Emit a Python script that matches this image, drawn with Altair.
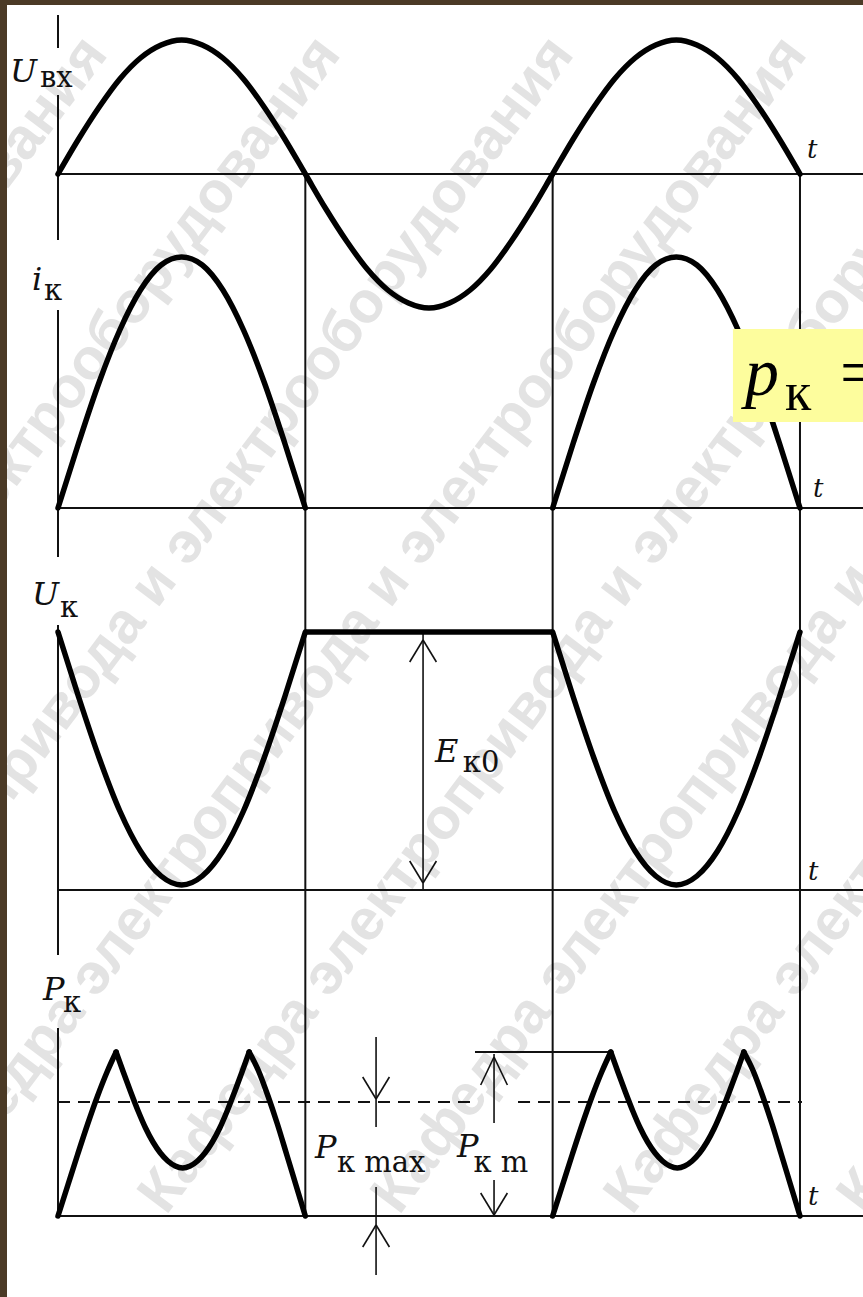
import altair as alt
import pandas as pd

# ---------------------------------------------------------------------------
# Waveforms of a class-B transistor stage. Time is measured in half-periods
# (t = 0 … 3); each conducting half-period is sampled at the same phase steps.
# Amplitudes are given in drawing units above the corresponding time axis.
# ---------------------------------------------------------------------------
PHASE = [0, 1/12, 2/12, 3/12, 4/12, 5/12, 6/12, 7/12, 8/12, 9/12, 10/12, 11/12, 1]
U_IN = [0, 35, 67, 95, 116, 129, 134, 129, 116, 95, 67, 35, 0]          # input voltage
I_K = [0, 65, 126, 178, 218, 243, 251, 243, 218, 178, 126, 65, 0]       # collector current
U_K = [258, 193, 132, 79, 39, 14, 5, 14, 39, 79, 132, 193, 258]        # collector voltage
E_K0 = 258                                                              # supply voltage

# collector power over one conducting half-period: rise, dip between peaks, fall
P_RISE_PHASE = [0, .04, .08, .12, .16, .20, .235]
P_RISE = [0, 31, 62, 92, 120, 145, 164]
P_DIP_PHASE = [.235, .264, .294, .324, .354, .384, .414, .444, .474, .504,
               .534, .564, .594, .624, .654, .684, .714, .744, .773]
P_DIP = [164, 144, 124, 105, 88, 74, 63, 55, 50, 48,
         50, 55, 63, 74, 88, 105, 124, 144, 164]
P_FALL_PHASE = [.773, .811, .849, .887, .924, .962, 1.0]
P_FALL = [164, 145, 120, 92, 62, 31, 0]
P_K_MEAN = 114
P_K_PEAK = 164

WATERMARK = "Кафедра электропривода и электрооборудования"

# ---------------------------------------------------------------------------
# Layout of the four stacked diagrams (levels of each time axis)
# ---------------------------------------------------------------------------
X_MIN, X_MAX = -0.2062, 3.2548
Y_MIN, Y_MAX = 0, 1292
BASE = {"uin": 1123, "ik": 789, "uk": 407, "pk": 81}
INK = "#111111"
LABEL_FONT = "DejaVu Serif"

xs = alt.Scale(domain=[X_MIN, X_MAX], nice=False, zero=False)
ys = alt.Scale(domain=[Y_MIN, Y_MAX], nice=False, zero=False)


def X(field="t"):
    return alt.X(f"{field}:Q", scale=xs, axis=None)


def Y(field="y"):
    return alt.Y(f"{field}:Q", scale=ys, axis=None)


# ---- smooth waveforms ------------------------------------------------------
rows = []
for k, sign in enumerate([1, -1, 1]):
    for i, (p, v) in enumerate(zip(PHASE, U_IN)):
        if k > 0 and i == 0:
            continue
        rows.append({"seg": "uin", "t": k + p, "y": BASE["uin"] + sign * v})
for k in (0, 2):
    for p, v in zip(PHASE, I_K):
        rows.append({"seg": f"ik{k}", "t": k + p, "y": BASE["ik"] + v})
    for p, v in zip(PHASE, U_K):
        rows.append({"seg": f"uk{k}", "t": k + p, "y": BASE["uk"] + v})
    for name, ph, vals in [("rise", P_RISE_PHASE, P_RISE),
                           ("dip", P_DIP_PHASE, P_DIP),
                           ("fall", P_FALL_PHASE, P_FALL)]:
        for p, v in zip(ph, vals):
            rows.append({"seg": f"pk{k}{name}", "t": k + p, "y": BASE["pk"] + v})
smooth = pd.DataFrame(rows)

flat = pd.DataFrame({"seg": ["ukflat", "ukflat"], "t": [1, 2],
                     "y": [BASE["uk"] + E_K0] * 2})

# ---- thin construction lines ----------------------------------------------
thin = []
for b in BASE.values():
    thin.append({"t": 0, "t2": X_MAX, "y": b, "y2": b})
for k in (1, 2, 3):
    thin.append({"t": k, "t2": k, "y": BASE["pk"], "y2": BASE["uin"]})
# vertical axis, broken where the quantity names stand
for a, b in [(1282, 1249), (1202, 1057), (987, 740), (672, 342), (269, BASE["pk"])]:
    thin.append({"t": 0, "t2": 0, "y": a, "y2": b})
# level of the power peak
pk_top = BASE["pk"] + P_K_PEAK
thin.append({"t": 1.686, "t2": 2.232, "y": pk_top, "y2": pk_top})


# dimension arrows: shaft pieces and open heads
def head(t, tip, up, w=0.054, ln=22):
    back = tip - ln if up else tip + ln
    return [{"t": t, "t2": t - w, "y": tip, "y2": back},
            {"t": t, "t2": t + w, "y": tip, "y2": back}]


arrows = []
t_e, t_mx, t_m = 1.476, 1.286, 1.763
arrows.append({"t": t_e, "t2": t_e, "y": BASE["uk"], "y2": BASE["uk"] + E_K0})
arrows += head(t_e, BASE["uk"] + E_K0 - 8, True)
arrows += head(t_e, BASE["uk"] + 7, False)
arrows.append({"t": t_mx, "t2": t_mx, "y": 260, "y2": 170})
arrows += head(t_mx, BASE["pk"] + P_K_MEAN + 3, False)
arrows.append({"t": t_mx, "t2": t_mx, "y": 110, "y2": 22})
arrows += head(t_mx, 72, True)
arrows.append({"t": t_m, "t2": t_m, "y": pk_top - 2, "y2": 174})
arrows += head(t_m, pk_top - 5, True, ln=28)
arrows.append({"t": t_m, "t2": t_m, "y": 117, "y2": BASE["pk"] + 1})
arrows += head(t_m, BASE["pk"] + 1, False)

thin_df = pd.DataFrame(thin)
arrow_df = pd.DataFrame(arrows)
mean_df = pd.DataFrame({"t": [0, 1.860], "t2": [1.666, 3.008],
                        "y": [BASE["pk"] + P_K_MEAN] * 2,
                        "y2": [BASE["pk"] + P_K_MEAN] * 2})

# ---- labels ----------------------------------------------------------------
names = pd.DataFrame([
    {"t": -0.194, "y": 1215, "txt": "U"},
    {"t": -0.105, "y": 1007, "txt": "i"},
    {"t": -0.105, "y": 692, "txt": "U"},
    {"t": -0.061, "y": 297, "txt": "P"},
    {"t": 1.524, "y": 535, "txt": "E"},
    {"t": 1.039, "y": 139, "txt": "P"},
    {"t": 1.613, "y": 140, "txt": "P"},
])
subs = pd.DataFrame([
    {"t": -0.073, "y": 1210, "txt": "вх"},
    {"t": -0.057, "y": 997, "txt": "к"},
    {"t": 0.008, "y": 680, "txt": "к"},
    {"t": 0.020, "y": 285, "txt": "к"},
    {"t": 1.637, "y": 525, "txt": "к0"},
    {"t": 1.128, "y": 125, "txt": "к max"},
    {"t": 1.680, "y": 125, "txt": "к m"},
])
tlabels = pd.DataFrame([
    {"t": 3.028, "y": 1139, "txt": "t"},
    {"t": 3.053, "y": 800, "txt": "t"},
    {"t": 3.032, "y": 417, "txt": "t"},
    {"t": 3.032, "y": 92, "txt": "t"},
])

# ---- watermark: the department name repeated along parallel diagonals --------
wm = pd.DataFrame([{"t": t0, "y": 81, "txt": WATERMARK}
                   for t0 in [-3.332, -2.390, -1.447, -0.505, 0.437, 1.379, 2.321, 3.263]])

watermark = alt.Chart(wm).mark_text(
    align="left", baseline="alphabetic", angle=307, font="Liberation Sans",
    fontWeight="bold", fontSize=58, color="#e3e3e3", clip=True
).encode(x=X(), y=Y(), text="txt:N")

thin_layer = alt.Chart(thin_df).mark_rule(color=INK, strokeWidth=2).encode(
    x=X(), x2="t2:Q", y=Y(), y2="y2:Q")
arrow_layer = alt.Chart(arrow_df).mark_rule(color=INK, strokeWidth=1.6).encode(
    x=X(), x2="t2:Q", y=Y(), y2="y2:Q")
mean_layer = alt.Chart(mean_df).mark_rule(
    color=INK, strokeWidth=1.8, strokeDash=[12, 8]).encode(
    x=X(), x2="t2:Q", y=Y(), y2="y2:Q")

smooth_layer = alt.Chart(smooth).mark_line(
    color="black", strokeWidth=5.5, interpolate="monotone", strokeCap="round",
    strokeJoin="round").encode(x=X(), y=Y(), detail="seg:N")
flat_layer = alt.Chart(flat).mark_line(color="black", strokeWidth=5.5).encode(
    x=X(), y=Y(), detail="seg:N")

name_layer = alt.Chart(names).mark_text(
    align="left", baseline="alphabetic", font=LABEL_FONT, fontStyle="italic",
    fontSize=32, color=INK).encode(x=X(), y=Y(), text="txt:N")
sub_layer = alt.Chart(subs).mark_text(
    align="left", baseline="alphabetic", font=LABEL_FONT, fontSize=29,
    color=INK).encode(x=X(), y=Y(), text="txt:N")
t_layer = alt.Chart(tlabels).mark_text(
    align="left", baseline="alphabetic", font=LABEL_FONT, fontStyle="italic",
    fontSize=26, color=INK).encode(x=X(), y=Y(), text="txt:N")

# ---- highlighted formula at the right edge ----------------------------------
box = alt.Chart(pd.DataFrame({"t": [2.729], "t2": [3.4], "y": [875], "y2": [968]})
                ).mark_rect(color="#fdfd9d", clip=True).encode(
    x=X(), x2="t2:Q", y=Y(), y2="y2:Q")
formula_main = alt.Chart(pd.DataFrame([
    {"t": 2.778, "y": 902, "txt": "p"}])).mark_text(
    align="left", baseline="alphabetic", font="Liberation Serif", fontStyle="italic",
    fontSize=68, color="black").encode(x=X(), y=Y(), text="txt:N")
formula_rest = alt.Chart(pd.DataFrame([
    {"t": 2.939, "y": 887, "txt": "к", "s": 54},
    {"t": 3.162, "y": 902, "txt": "=", "s": 68}])).mark_text(
    align="left", baseline="alphabetic", font="Liberation Serif", color="black",
    clip=True).encode(x=X(), y=Y(), text="txt:N",
                      size=alt.Size("s:Q", scale=None, legend=None))

chart = alt.layer(
    watermark, thin_layer, mean_layer, arrow_layer, smooth_layer, flat_layer,
    name_layer, sub_layer, t_layer, box, formula_main, formula_rest
).properties(
    width=856, height=1292, autosize="none",
    padding={"left": 7, "top": 5, "right": 0, "bottom": 0},
    background="#4b3a26"
).configure_view(fill="white", strokeWidth=0)

chart.save("out.html", embed_options={"renderer": "svg", "actions": False})
